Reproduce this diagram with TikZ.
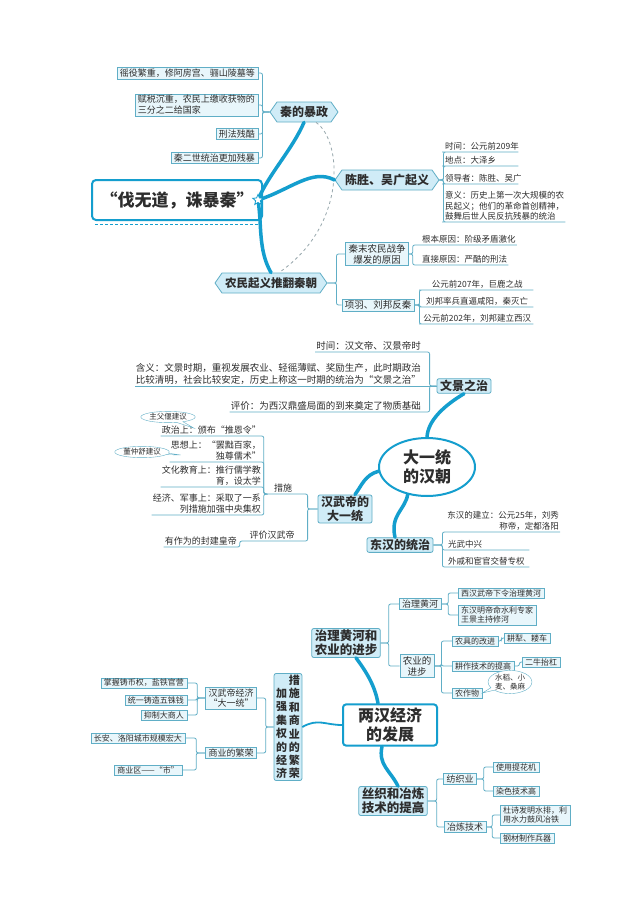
\documentclass[tikz,border=0pt]{standalone}
\usepackage{fontspec}
\setmainfont{Noto Sans CJK SC}
\usetikzlibrary{positioning,shapes.symbols,shapes.geometric,shapes.callouts}
\definecolor{branchcyan}{RGB}{20,158,206}
\definecolor{rimblue}{RGB}{96,174,198}
\definecolor{paleblue}{RGB}{232,246,251}
\definecolor{headfill}{RGB}{208,236,247}
\definecolor{inkgray}{RGB}{45,45,45}
\definecolor{dashgray}{RGB}{150,166,172}
\tikzset{
  topic/.style={shape=signal,signal to=west and east,signal pointer angle=110,draw=rimblue,fill=headfill,thick,inner xsep=3pt,inner ysep=2pt,minimum height=20pt,font=\fontsize{12}{14}\selectfont\bfseries,text=inkgray},
  head/.style={draw=rimblue,fill=headfill,thick,rounded corners=2pt,align=center,inner xsep=3pt,inner ysep=1.5pt,font=\fontsize{12}{13.5}\selectfont\bfseries,text=inkgray},
  big/.style={draw=branchcyan,line width=2pt,fill=white,align=center,font=\fontsize{16}{19}\selectfont\bfseries,text=inkgray},
  item/.style={draw=rimblue,fill=paleblue,align=left,inner xsep=3pt,inner ysep=1.5pt,font=\fontsize{8}{9.5}\selectfont,text=inkgray},
  note/.style={inner xsep=1pt,inner ysep=1.5pt,align=left,font=\fontsize{8.5}{10.5}\selectfont,text=inkgray},
  wnote/.style={note,font=\fontsize{9.5}{11.5}\selectfont},
  bran/.style={branchcyan,line width=3.5pt,line cap=round},
  link/.style={rimblue,thick,rounded corners=2pt},
  tip/.style={ellipse callout,draw=rimblue,fill=white,align=center,inner sep=0.5pt,font=\fontsize{7.5}{8.5}\selectfont,text=inkgray}
}
\begin{document}
\begin{tikzpicture}[x=1pt,y=-1pt]
  \fill[white] (0,0) rectangle (640,905);
  \useasboundingbox (0,0) rectangle (640,905);

  % --- qin ---
  \node[big,rounded corners=4pt,minimum width=170pt,minimum height=40pt,font=\fontsize{17}{20}\selectfont\bfseries] (fwd) at (177,200) {“伐无道，诛暴秦”};
  \draw[branchcyan,densely dashed] ([shift={(4pt,-3pt)}]fwd.south west) -- ([shift={(-4pt,-3pt)}]fwd.south east);
  \node[topic] (qin) at (304,112) {秦的暴政};
  \node[item,anchor=east,font=\fontsize{9}{11}\selectfont] (q1) at (258,73) {徭役繁重，修阿房宫、骊山陵墓等};
  \node[item,anchor=east,font=\fontsize{9}{11}\selectfont] (q2) at (258,105) {赋税沉重，农民上缴收获物的\\三分之二给国家};
  \node[item,anchor=east,font=\fontsize{9}{11}\selectfont] (q3) at (258,134) {刑法残酷};
  \node[item,anchor=east,font=\fontsize{9}{11}\selectfont] (q4) at (258,158) {秦二世统治更加残暴};
  \foreach \n in {q1,q2,q3,q4} \draw[link] (qin.west) -- ++(-7,0) |- (\n.east);

  \node[topic] (cs) at (387,180) {陈胜、吴广起义};
  \node[note,anchor=south west,text width=72pt] (c1) at (444,152) {时间：公元前209年};
  \node[note,anchor=south west,text width=72pt] (c2) at (444,166) {地点：大泽乡};
  \node[note,anchor=south west,text width=72pt] (c3) at (444,184) {领导者：陈胜、吴广};
  \node[note,anchor=south west] (c4) at (444,222) {意义：历史上第一次大规模的农\\民起义；他们的革命首创精神，\\鼓舞后世人民反抗残暴的统治};
  \foreach \n in {c1,c2,c3,c4} \draw[link] (cs.east) -- ++(4,0) |- (\n.south west) -- (\n.south east);

  \node[topic,font=\fontsize{11.5}{13}\selectfont\bfseries] (nm) at (271,283) {农民起义推翻秦朝};
  \node[item,align=center,font=\fontsize{9.5}{11}\selectfont] (y1) at (377,254) {秦末农民战争\\爆发的原因};
  \node[item,font=\fontsize{9.5}{11}\selectfont] (y2) at (378,305) {项羽、刘邦反秦};
  \foreach \n in {y1,y2} \draw[link] (nm.east) -- ++(9,0) |- (\n.west);
  \node[note,anchor=south west] (n1) at (421,245) {根本原因：阶级矛盾激化};
  \node[note,anchor=south west] (n2) at (421,265) {直接原因：严酷的刑法};
  \foreach \n in {n1,n2} \draw[link] (y1.east) -- ++(4,0) |- (\n.south west) -- (\n.south east);
  \node[note,anchor=south west,text width=110pt,align=center] (p1) at (421,290) {公元前207年，巨鹿之战};
  \node[note,anchor=south west,text width=110pt,align=center] (p2) at (421,307) {刘邦率兵直逼咸阳，秦灭亡};
  \node[note,anchor=south west,text width=110pt,align=center] (p3) at (421,324) {公元前202年，刘邦建立西汉};
  \foreach \n in {p1,p2,p3} \draw[link] (y2.east) -- ++(5,0) |- (\n.south west) -- (\n.south east);

  \draw[dashgray,dashed,thick] ([xshift=12pt]qin.south) .. controls (342,140) and (348,225) .. ([xshift=8pt]nm.north);
  \draw[bran] (258,200) .. controls (268,175) and (292,150) .. (qin.south);
  \draw[bran] (258,200) .. controls (290,190) and (312,168) .. (cs.west);
  \draw[bran] (258,200) .. controls (262,225) and (258,250) .. (nm.north);
  \node[star,star points=5,star point ratio=2.2,draw=branchcyan,fill=white,thick,minimum size=11pt,inner sep=0pt] (hub) at (258,200) {};

  % --- han ---
  \node[big,ellipse,minimum width=96pt,minimum height=58pt,inner sep=0pt] (hanc) at (427,467) {大一统\\的汉朝};
  \node[head] (wenjing) at (464,386) {文景之治};
  \node[wnote,anchor=south east] (w1) at (422,352) {时间：汉文帝、汉景帝时};
  \node[wnote,anchor=south east] (w2) at (422,386) {含义：文景时期，重视发展农业、轻徭薄赋、奖励生产，此时期政治\\比较清明，社会比较安定，历史上称这一时期的统治为“文景之治”};
  \node[wnote,anchor=south east] (w3) at (422,412) {评价：为西汉鼎盛局面的到来奠定了物质基础};
  \draw[link] (wenjing.west) -- (w2.south west);
  \foreach \n in {w1,w3} \draw[link] (wenjing.west) -- ++(-7,0) |- (\n.south west);

  \node[head] (hw) at (345,509) {汉武帝的\\大一统};
  \node[note,anchor=south,minimum width=36pt,font=\fontsize{9}{11}\selectfont] (cuoshi) at (283,494) {措施};
  \node[note,anchor=south,minimum width=58pt,font=\fontsize{9}{11}\selectfont] (pjhw) at (272,541) {评价汉武帝};
  \foreach \n in {cuoshi,pjhw} \draw[link] (hw.west) -- ++(-10,0) |- (\n.south west);
  \node[note,anchor=south east,align=right,font=\fontsize{9}{11}\selectfont] (h1) at (262,436) {政治上：颁布“推恩令”};
  \node[note,anchor=south east,align=right,font=\fontsize{9}{11}\selectfont] (h2) at (262,462) {思想上：“罢黜百家，\\独尊儒术”};
  \node[note,anchor=south east,align=right,font=\fontsize{9}{11}\selectfont] (h3) at (262,487) {文化教育上：推行儒学教\\育，设太学};
  \node[note,anchor=south east,align=right,font=\fontsize{9}{11}\selectfont] (h4) at (262,515) {经济、军事上：采取了一系\\列措施加强中央集权};
  \foreach \n in {h1,h2,h3,h4} \draw[link] (cuoshi.south west) -- ++(-1,0) |- (\n.south west);
  \node[note,anchor=south east,font=\fontsize{9}{11}\selectfont] (hd) at (238,547) {有作为的封建皇帝};
  \draw[link] (pjhw.south west) -- ++(-3,0) |- (hd.south west);
  \node[tip,callout relative pointer={(14pt,-6pt)}] (tip1) at (168,417) {主父偃建议};
  \node[tip,callout relative pointer={(13pt,-1pt)}] (tip2) at (142,452) {董仲舒建议};

  \node[head] (dh) at (400,545) {东汉的统治};
  \node[note,anchor=south east,align=right] (d1) at (560,532) {东汉的建立：公元25年，刘秀\\称帝，定都洛阳};
  \node[note,anchor=south west,text width=80pt] (d2) at (447,550) {光武中兴};
  \node[note,anchor=south west,text width=80pt] (d3) at (447,567) {外戚和宦官交替专权};
  \foreach \n in {d1,d2,d3} \draw[link] (dh.east) -- ++(9,0) |- (\n.south east);

  \draw[bran] (hanc.north) .. controls (428,420) and (445,405) .. (wenjing.south);
  \draw[bran] (hanc.185) .. controls (365,475) and (362,485) .. ([xshift=10pt]hw.north);
  \draw[bran] (hanc.235) .. controls (405,510) and (390,515) .. ([xshift=-5pt]dh.north);

  % --- economy ---
  \node[big,rounded corners=3pt,minimum width=94pt,minimum height=40pt] (lh) at (390,725) {两汉经济\\的发展};
  \node[head,font=\fontsize{12.5}{14}\selectfont\bfseries] (zl) at (346,643) {治理黄河和\\农业的进步};
  \node[head,font=\fontsize{12.5}{14}\selectfont\bfseries] (sz) at (393,801) {丝织和冶炼\\技术的提高};
  \draw[bran] ([xshift=-12pt]lh.north) .. controls (375,685) and (365,670) .. ([xshift=10pt]zl.south);
  \draw[bran] ([xshift=-8pt]lh.south) .. controls (378,765) and (390,770) .. ([xshift=5pt]sz.north);

  \node[head,minimum height=98pt,inner xsep=2pt,font=\fontsize{11}{11}\selectfont\bfseries] (jiqu) at (288,727) {\shortstack{加\\强\\集\\权\\的\\经\\济}\,\shortstack{措\\施\\和\\商\\业\\的\\繁\\荣}};
  \draw[branchcyan,line width=1.8pt] (lh.west) .. controls (325,725) and (318,718) .. (jiqu.east);
  \node[item,align=center,font=\fontsize{9}{10.5}\selectfont] (wudi) at (231,698) {汉武帝经济\\“大一统”};
  \node[item,font=\fontsize{9}{10.5}\selectfont] (shangye) at (231,753) {商业的繁荣};
  \foreach \n in {wudi,shangye} \draw[link] (jiqu.west) -- ++(-8,0) |- (\n.east);
  \node[item,anchor=east] (e1) at (187,683) {掌握铸币权，盐铁官营};
  \node[item,anchor=east] (e2) at (187,700) {统一铸造五铢钱};
  \node[item,anchor=east] (e3) at (187,715) {抑制大商人};
  \foreach \n in {e1,e2,e3} \draw[link] (wudi.west) -- ++(-8,0) |- (\n.east);
  \node[item,anchor=east] (s1) at (185,738) {长安、洛阳城市规模宏大};
  \node[item,anchor=east] (s2) at (182,770) {商业区——“市”};
  \foreach \n in {s1,s2} \draw[link] (shangye.west) -- ++(-9,0) |- (\n.east);

  \node[item,font=\fontsize{9}{11}\selectfont] (hh) at (420,604) {治理黄河};
  \node[item,align=center,font=\fontsize{9.5}{11}\selectfont] (ny) at (417,666) {农业的\\进步};
  \foreach \n in {hh,ny} \draw[link] (zl.east) -- ++(8,0) |- (\n.west);
  \node[item,anchor=west] (g1) at (458,593) {西汉武帝下令治理黄河};
  \node[item,anchor=west] (g2) at (458,615) {东汉明帝命水利专家\\王景主持修河};
  \foreach \n in {g1,g2} \draw[link] (hh.east) -- ++(7,0) |- (\n.west);
  \node[item,anchor=west] (k1) at (452,641) {农具的改进};
  \node[item,anchor=west] (k2) at (452,666) {耕作技术的提高};
  \node[item,anchor=west] (k3) at (452,693) {农作物};
  \foreach \n in {k1,k2,k3} \draw[link] (ny.east) -- ++(7,0) |- (\n.west);
  \node[item,anchor=west] (m1) at (504,638) {耕犁、耧车};
  \draw[link] (k1.east) -- ++(3,0) |- (m1.west);
  \node[item,anchor=west] (m2) at (522,662) {二牛抬杠};
  \draw[link] (k2.east) -- ++(5,0) |- (m2.west);
  \node[tip,callout absolute pointer={(k3.east)}] (tip3) at (510,682) {水稻、小\\麦、桑麻};

  \node[item,font=\fontsize{9}{11}\selectfont] (fz) at (460,779) {纺织业};
  \node[item,font=\fontsize{9}{11}\selectfont] (yl) at (465,827) {冶炼技术};
  \foreach \n in {fz,yl} \draw[link] (sz.east) -- ++(9,0) |- (\n.west);
  \node[item,anchor=west] (f1) at (493,767) {使用提花机};
  \node[item,anchor=west] (f2) at (493,791) {染色技术高};
  \foreach \n in {f1,f2} \draw[link] (fz.east) -- ++(7,0) |- (\n.west);
  \node[item,anchor=west] (r1) at (500,815) {杜诗发明水排，利\\用水力鼓风冶铁};
  \node[item,anchor=west] (r2) at (500,838) {钢材制作兵器};
  \foreach \n in {r1,r2} \draw[link] (yl.east) -- ++(6,0) |- (\n.west);
\end{tikzpicture}
\end{document}
